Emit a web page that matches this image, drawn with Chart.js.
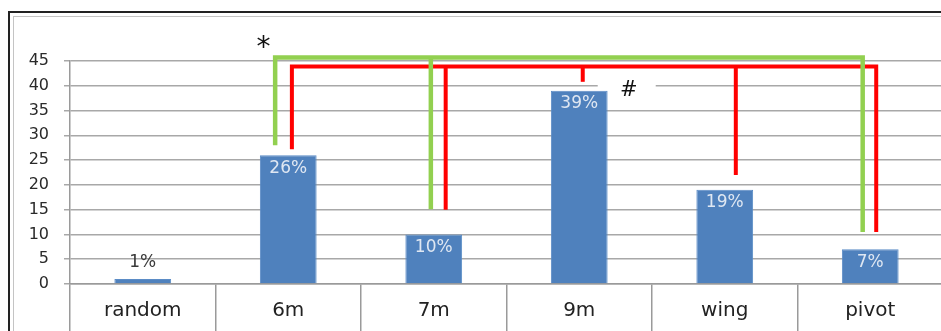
<!DOCTYPE html>
<html lang="en">
<head>
<meta charset="UTF-8">
<title>Shot positions</title>
<script src="https://cdn.jsdelivr.net/npm/chart.js@4"></script>
<style>
  html, body { margin: 0; padding: 0; background: #fff; overflow: hidden; width: 941px; height: 331px; }
  .frame {
    position: absolute; left: 8px; top: 11px; width: 933px; height: 320px;
    border-left: 2px solid #222; border-top: 2px solid #222;
  }
  .frame-inner {
    position: absolute; left: 13px; top: 16px; width: 928px; height: 315px;
    border-left: 1px solid #c4c4c4; border-top: 1px solid #c4c4c4;
  }
  /* the plot runs slightly past the right edge, so the box clips it */
  .chart-box { position: absolute; left: 0; top: 0; width: 941px; height: 331px; overflow: hidden; }
</style>
</head>
<body>
<div class="frame"></div>
<div class="frame-inner"></div>
<div class="chart-box"><canvas id="shotChart" width="945" height="331"></canvas></div>

<script>
// categories and bar values (percent of shots)
const categories = ['random', '6m', '7m', '9m', 'wing', 'pivot'];
const shares = [1, 26, 10, 39, 19, 7];

// significance brackets: level of the bar and where each leg ends
const starLevel = 45.7;
const starLegs = ['6m', '7m', 'pivot'];
const starEnds = [28, 15.1, 10.5];

const hashLevel = 43.9;
const hashLegs = ['6m', '7m', '9m', 'wing', 'pivot'];
const hashEnds = [27.2, 15, 40.8, 22, 10.5];

// leg offsets from the category centre, in category widths
const starShift = [-0.09, -0.02, -0.052];
const hashShift = [0.025, 0.082, 0.024, 0.076, 0.041];

const FONT = '"DejaVu Sans", Verdana, sans-serif';

const barLabels = {
  id: 'barLabels',
  afterDatasetsDraw(chart) {
    const { ctx } = chart;
    const meta = chart.getDatasetMeta(0);
    ctx.save();
    ctx.font = '17px ' + FONT;
    ctx.textAlign = 'center';
    ctx.textBaseline = 'middle';
    meta.data.forEach((bar, i) => {
      const inside = bar.base - bar.y > 25;
      ctx.fillStyle = inside ? '#dfe7f2' : '#3a3a3a';
      ctx.fillText(shares[i] + '%', bar.x, inside ? bar.y + 13 : bar.y - 16);
    });
    ctx.restore();
  }
};

const brackets = {
  id: 'brackets',
  afterDatasetsDraw(chart) {
    const { ctx, scales: { x, y } } = chart;
    const step = x.getPixelForValue(1) - x.getPixelForValue(0);
    const legX = (cat, shift) => x.getPixelForValue(categories.indexOf(cat)) + shift * step;

    function bracket(level, legs, ends, shifts, color, width) {
      const top = y.getPixelForValue(level);
      const xs = legs.map((c, i) => legX(c, shifts[i]));
      ctx.save();
      ctx.strokeStyle = color;
      ctx.lineWidth = width;
      ctx.lineJoin = 'miter';
      ctx.lineCap = 'butt';
      ctx.beginPath();
      ctx.moveTo(xs[0], y.getPixelForValue(ends[0]));
      ctx.lineTo(xs[0], top);
      ctx.lineTo(xs[xs.length - 1], top);
      ctx.lineTo(xs[xs.length - 1], y.getPixelForValue(ends[ends.length - 1]));
      ctx.stroke();
      for (let i = 1; i < xs.length - 1; i++) {
        ctx.beginPath();
        ctx.moveTo(xs[i], top);
        ctx.lineTo(xs[i], y.getPixelForValue(ends[i]));
        ctx.stroke();
      }
      ctx.restore();
    }

    bracket(hashLevel, hashLegs, hashEnds, hashShift, '#ff0000', 4);
    bracket(starLevel, starLegs, starEnds, starShift, '#92d050', 4.5);

    // markers
    ctx.save();
    ctx.textAlign = 'center';
    ctx.textBaseline = 'middle';
    ctx.fillStyle = '#111';
    ctx.font = '28px ' + FONT;
    ctx.fillText('*', legX('6m', -0.17), y.getPixelForValue(47.4));
    const hx = legX('9m', 0.34), hy = y.getPixelForValue(39.1);
    // the marker box hides the gridline behind it
    ctx.fillStyle = '#fff';
    ctx.fillRect(hx - 31, hy - 11, 58, 10);
    ctx.fillStyle = '#111';
    ctx.font = '21px ' + FONT;
    ctx.fillText('#', hx, hy);
    ctx.restore();
  }
};

new Chart(document.getElementById('shotChart'), {
  type: 'bar',
  data: {
    labels: categories,
    datasets: [{
      data: shares,
      backgroundColor: '#4f81bd',
      borderColor: '#5b8cc6',
      borderWidth: 1,
      categoryPercentage: 1,
      barPercentage: 0.39
    }]
  },
  options: {
    responsive: false,
    animation: false,
    layout: { padding: { top: 61, right: 2, bottom: 0, left: 0 } },
    plugins: { legend: { display: false }, tooltip: { enabled: false } },
    scales: {
      x: {
        afterFit(scale) { scale.height = 47; },
        grid: {
          offset: true,
          drawOnChartArea: false,
          tickLength: 47,
          color: '#9a9a9a',
          lineWidth: 1.5
        },
        border: { color: '#9a9a9a', width: 1.5 },
        ticks: {
          color: '#222',
          padding: -32,
          font: { family: FONT, size: 20 }
        }
      },
      y: {
        min: 0,
        max: 45,
        afterFit(scale) { scale.width = 70; },
        grid: { color: '#a8a8a8', lineWidth: 1.5, tickLength: 6 },
        border: { color: '#9a9a9a', width: 1.5 },
        ticks: {
          stepSize: 5,
          color: '#2a2a2a',
          padding: 15,
          font: { family: FONT, size: 16 }
        }
      }
    }
  },
  plugins: [barLabels, brackets]
});
</script>
</body>
</html>
